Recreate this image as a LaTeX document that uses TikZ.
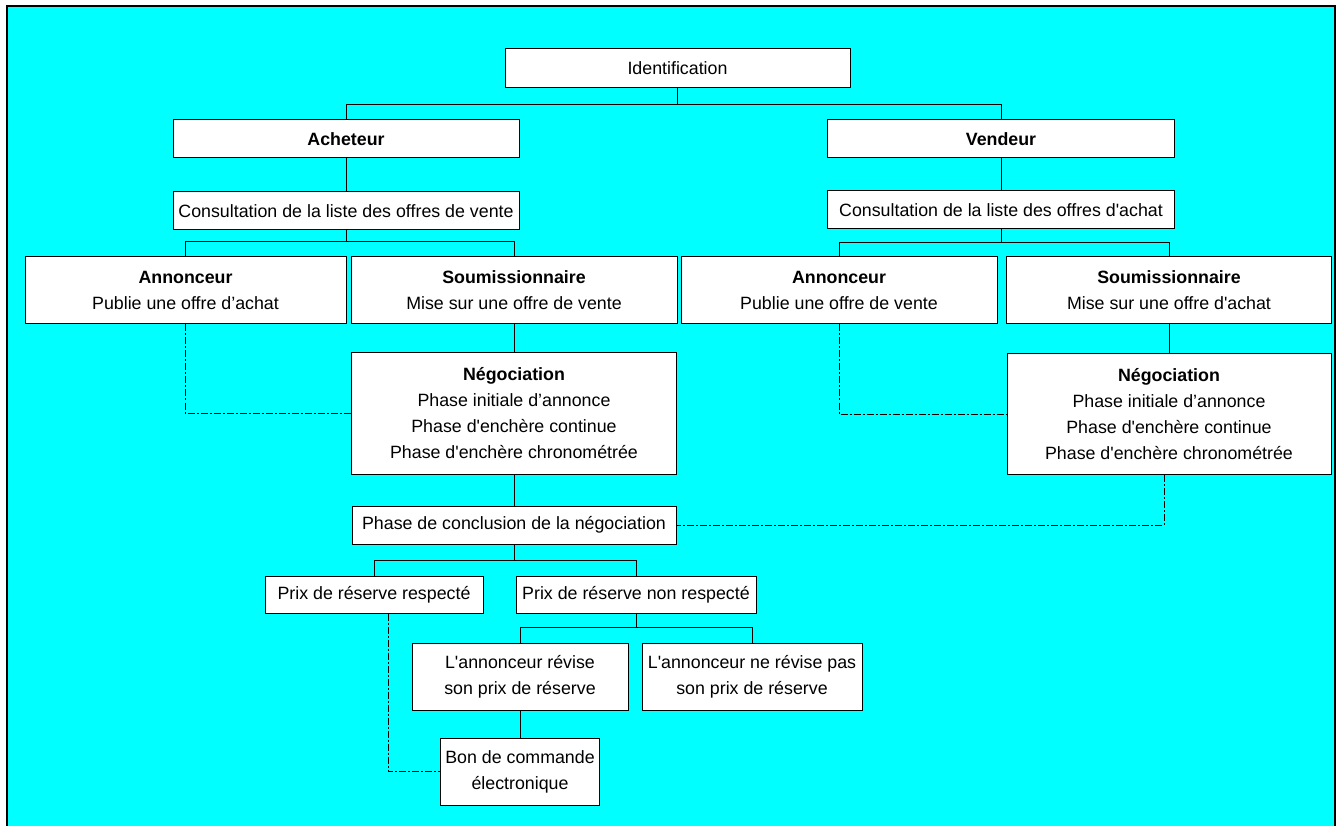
\documentclass[tikz,border=0pt]{standalone}
\usepackage{fontspec}
\setmainfont{Liberation Sans}
\usetikzlibrary{positioning}
\definecolor{bgcyan}{RGB}{0,255,255}

\begin{document}
\begin{tikzpicture}[x=1pt,y=-1pt,
    box/.style={draw=black,fill=white,line width=1pt,inner sep=0pt,align=center,
      font=\fontsize{17.8pt}{26pt}\selectfont},
    link/.style={draw=black,line width=1pt},
    dlink/.style={draw=black,line width=1pt,dash pattern=on 7pt off 2pt on 2pt off 2pt}]
  \useasboundingbox (0,0) rectangle (1342,826);
  \fill[bgcyan] (7,6) rectangle (1335,830);
  \draw[line width=1.2pt] (7,830) -- (7,6) -- (1335,6) -- (1335,830);

  \node[box,minimum width=345,minimum height=39] (ident) at (677.5,68.5) {Identification};
  \node[box,minimum width=346,minimum height=38] (ach) at (346,139) {\textbf{Acheteur}};
  \node[box,minimum width=347,minimum height=38] (vend) at (1001,139) {\textbf{Vendeur}};
  \node[box,minimum width=346,minimum height=38] (consA) at (346,211) {Consultation de la liste des offres de vente};
  \node[box,minimum width=347,minimum height=38] (consV) at (1001,210) {Consultation de la liste des offres d\textquotesingle achat};
  \node[box,minimum width=321,minimum height=67] (annA) at (185.5,290.5) {\textbf{Annonceur}\\Publie une offre d’achat};
  \node[box,minimum width=326,minimum height=67] (souA) at (514,290.5) {\textbf{Soumissionnaire}\\Mise sur une offre de vente};
  \node[box,minimum width=316,minimum height=67] (annV) at (839,290.5) {\textbf{Annonceur}\\Publie une offre de vente};
  \node[box,minimum width=325,minimum height=67] (souV) at (1169,290.5) {\textbf{Soumissionnaire}\\Mise sur une offre d\textquotesingle achat};
  \node[box,minimum width=325,minimum height=121] (negA) at (514,413.5) {\textbf{Négociation}\\Phase initiale d’annonce\\Phase d\textquotesingle enchère continue\\Phase d\textquotesingle enchère chronométrée};
  \node[box,minimum width=324,minimum height=121] (negV) at (1169,414) {\textbf{Négociation}\\Phase initiale d’annonce\\Phase d\textquotesingle enchère continue\\Phase d\textquotesingle enchère chronométrée};
  \node[box,minimum width=324,minimum height=38] (concl) at (514,525) {Phase de conclusion de la négociation};
  \node[box,minimum width=218,minimum height=37] (prixR) at (374,594.5) {Prix de réserve respecté};
  \node[box,minimum width=240,minimum height=37] (prixN) at (636,594.5) {Prix de réserve non respecté};
  \node[box,minimum width=216,minimum height=67] (rev) at (520,676.5) {L\textquotesingle annonceur révise\\son prix de réserve};
  \node[box,minimum width=220,minimum height=67] (nrev) at (752,676.5) {L\textquotesingle annonceur ne révise pas\\son prix de réserve};
  \node[box,minimum width=159,minimum height=67] (bon) at (520,771.5) {Bon de commande\\électronique};

  \draw[link] (ident.south) -- ++(0,16) -| (ach.north);
  \draw[link] (ident.south) -- ++(0,16) -| (vend.north);
  \draw[link] (ach.south) -- (consA.north);
  \draw[link] (vend.south) -- (consV.north);
  \draw[link] (consA.south) -- ++(0,11) -| (annA.north);
  \draw[link] (consA.south) -- ++(0,11) -| (souA.north);
  \draw[link] (consV.south) -- ++(0,13) -| (annV.north);
  \draw[link] (consV.south) -- ++(0,13) -| (souV.north);
  \draw[link] (souA.south) -- (negA.north);
  \draw[link] (souV.south) -- (negV.north);
  \draw[dlink] (annA.south) |- (negA.west);
  \draw[dlink] (annV.south) |- (negV.west);
  \draw[link] (negA.south) -- (concl.north);
  \draw[dlink] ([xshift=-5]negV.south) |- (concl.east);
  \draw[link] (concl.south) -- ++(0,16) -| (prixR.north);
  \draw[link] (concl.south) -- ++(0,16) -| (prixN.north);
  \draw[link] (prixN.south) -- ++(0,14) -| (rev.north);
  \draw[link] (prixN.south) -- ++(0,14) -| (nrev.north);
  \draw[link] (rev.south) -- (bon.north);
  \draw[dlink] ([xshift=14]prixR.south) |- (bon.west);
\end{tikzpicture}
\end{document}
